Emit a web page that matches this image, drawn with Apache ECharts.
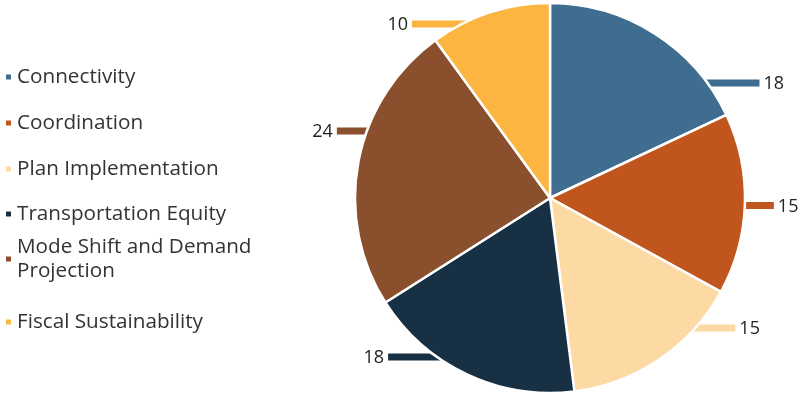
<!DOCTYPE html>
<html lang="en">

<head>
  <meta charset="UTF-8">
  <title>pie</title>
  <script src="https://cdn.jsdelivr.net/npm/echarts@6/dist/echarts.min.js"></script>
  <style>
    * {
      padding: 0;
      margin: 0;
    }

    #main {
      width: 800px;
      height: 397px;
    }
  </style>
</head>

<body>
  <div id="main"></div>
  <script>
    var names = ['Connectivity', 'Coordination', 'Plan Implementation', 'Transportation Equity',
      'Mode Shift and Demand Projection', 'Fiscal Sustainability'];
    var values = [18, 15, 15, 18, 24, 10];
    var colors = ['#3e6d8f', '#c0561e', '#fdd9a3', '#183043', '#8a4f2c', '#fbb540'];

    // label placement: height of the leader bar and its length past the rim
    var labelBarY = [83, 205.5, 328, 357, 131, 24];
    var labelBarLen = [52, 29, 40, 49, 30, 50];
    // legend row centres
    var legendRowY = [77, 123, 169, 214, 259, 322];

    var cx = 550, cy = 198, R = 195;

    var chartDom = document.getElementById('main');
    var myChart = echarts.init(chartDom);
    var option;

    var legendFont = {
      fontFamily: 'Open Sans',
      fontSize: 20.7,
      color: '#333',
      lineHeight: 24
    };

    var legends = names.map(function (n, i) {
      var two = n.indexOf('Demand') > 0;
      return {
        orient: 'vertical',
        left: 4,
        top: two ? legendRowY[i] - 36 : legendRowY[i] - 12,
        padding: 0,
        itemWidth: 7,
        itemHeight: 7,
        itemGap: 0,
        icon: 'rect',
        selectedMode: false,
        data: [n],
        formatter: function (name) {
          return name.replace(' Projection', '\nProjection');
        },
        textStyle: Object.assign({}, legendFont, two ? { padding: [24, 0, 0, 0] } : { padding: 0 })
      };
    });

    option = {
      animation: false,
      color: colors,
      legend: legends,
      series: [
        {
          type: 'pie',
          center: [cx, cy],
          radius: R,
          startAngle: 90,
          clockwise: true,
          avoidLabelOverlap: false,
          itemStyle: {
            borderColor: '#fff',
            borderWidth: 2.5
          },
          label: {
            show: true,
            formatter: '{c}',
            fontFamily: 'Open Sans',
            fontSize: 18,
            color: '#222'
          },
          labelLine: {
            show: true,
            length: 0,
            length2: 10,
            lineStyle: { width: 7, cap: 'butt' }
          },
          labelLayout: function (params) {
            var i = params.dataIndex;
            var y = labelBarY[i];
            var dx = Math.sqrt(R * R - (y - cy) * (y - cy));
            var right = i < 3;
            var s = right ? 1 : -1;
            var x0 = cx + s * (dx - 4);
            var x1 = cx + s * (dx + labelBarLen[i]);
            return {
              x: x1 + s * 4,
              y: y + 1,
              align: right ? 'left' : 'right',
              verticalAlign: 'middle',
              labelLinePoints: [[x0, y], [(x0 + x1) / 2, y], [x1, y]]
            };
          },
          data: names.map(function (n, i) {
            return { name: n, value: values[i] };
          })
        }
      ]
    };

    option && myChart.setOption(option);
  </script>
</body>

</html>
